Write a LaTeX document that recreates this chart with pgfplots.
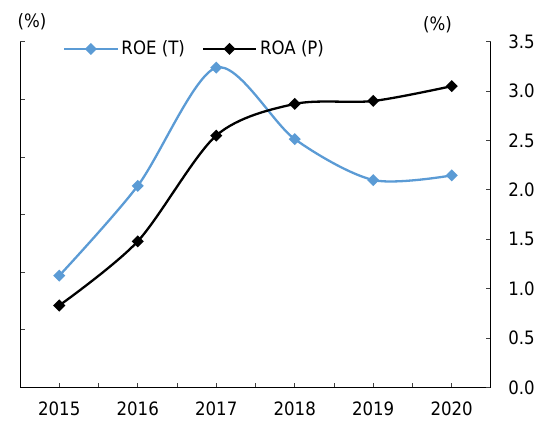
\documentclass[border=0pt]{standalone}
\usepackage{pgfplots}
\pgfplotsset{compat=1.18}
\usepackage{fontspec}
\setmainfont{DejaVu Sans Condensed}
\definecolor{roeblue}{HTML}{5B9BD5}

\begin{document}
\fontsize{18.5}{21}\selectfont
\begin{tikzpicture}
\useasboundingbox (-20bp,-35.5bp) rectangle (523bp,387.5bp);
\pgfplotsset{
  base/.style={
    scale only axis, width=471bp, height=345.8bp,
    xmin=2014.5, xmax=2020.5, ymin=0,
    tick align=inside, major tick length=5bp, minor tick length=5bp,
    tick style={black!75, line width=0.8bp},
    axis line style={black, line width=1bp},
    /pgf/number format/assume math mode=true,
    tick label style={font=\fontsize{18.5}{21}\selectfont},
  },
  ser/.style={line width=2.3bp, smooth, mark=square*, mark size=3.1bp,
    mark options={rotate=45, solid}},
}
\begin{axis}[base, ymax=6,
  axis x line*=bottom, axis y line*=left,
  xtick={2015,...,2020}, minor xtick={2015.5,2016.5,...,2019.5},
  xticklabel style={/pgf/number format/1000 sep={}, yshift=-8bp},
  ytick={0,...,6}, yticklabels={}]
\addplot[ser, roeblue] coordinates {
(2015,1.94) (2016,3.50) (2017,5.55) (2018,4.31) (2019,3.60) (2020,3.68)
};
\end{axis}
\begin{axis}[base, ymax=3.5,
  axis x line=none, axis y line*=right,
  ytick={0,0.5,...,3.5},
  yticklabel style={/pgf/number format/fixed, /pgf/number format/fixed zerofill,
    /pgf/number format/precision=1, xshift=11bp},
  legend columns=2,
  legend style={draw=none, fill=none, at={(0.0913,0.979)}, anchor=west,
    inner sep=0pt, font=\fontsize{18.5}{21}\selectfont,
    nodes={inner sep=3bp},
    /tikz/every even column/.append style={column sep=14bp}},
  legend image code/.code={%
    \draw[#1, mark repeat=2, mark phase=2] plot coordinates {(0bp,0bp) (26.5bp,0bp) (53bp,0bp)};}]
\addlegendimage{ser, roeblue}
\addlegendentry{ROE (T)}
\addplot[ser, black] coordinates {
(2015,0.83) (2016,1.48) (2017,2.55) (2018,2.87) (2019,2.90) (2020,3.05)
};
\addlegendentry{ROA (P)}
\end{axis}
\node at (12bp,365.8bp) {(\%)};
\node at (417.5bp,362.5bp) {(\%)};
\end{tikzpicture}
\end{document}
